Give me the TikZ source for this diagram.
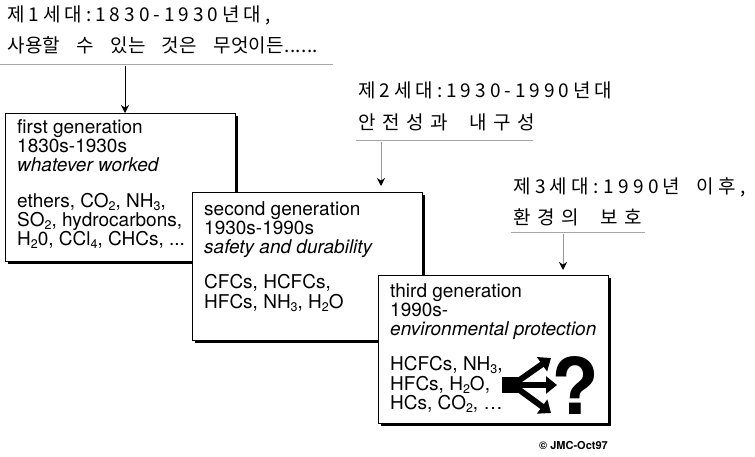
\documentclass[tikz,border=0pt]{standalone}
\usepackage{fontspec}
\setmainfont{TeX Gyre Heros}
\newfontfamily\krfont{Noto Sans CJK KR}
\usetikzlibrary{arrows.meta,shadows}
\newcommand\sbs[1]{\raisebox{-0.3ex}{\fontsize{12.5}{12.5}\selectfont #1}}
\newcommand\ksp[1][0.85em]{\hspace{#1}}
\newcommand\trk[1]{\addfontfeatures{LetterSpace=#1}}
\begin{document}
\begin{tikzpicture}[x=1pt,y=-1pt,
  genbox/.style={draw, line width=1pt, fill=white, anchor=north west, inner sep=0pt,
    minimum width=230pt, minimum height=148pt,
    general shadow={fill=black, shadow xshift=2.5pt, shadow yshift=-2.5pt}},
  boxtext/.style={anchor=north west, inner sep=0pt, align=left, font=\fontsize{19}{19.3}\selectfont},
  krtext/.style={anchor=west, inner sep=0pt, font=\krfont\fontsize{19}{22}\selectfont},
  uline/.style={draw=gray!70, line width=1pt},
  arr/.style={line width=1pt, -{Stealth[length=8pt,width=8pt,black]}},
  bigarr/.style={line width=6pt, -{Triangle[length=11pt,width=17pt]}}
]
\useasboundingbox (0,0) rectangle (755,456);

% Korean captions
\node[krtext] (k1a) at (7,15) {\trk{21}제1세대:1830-1930년대,};
\node[krtext] (k1b) at (7,45) {\trk{2}사용할\ksp 수\ksp 있는\ksp 것은\ksp 무엇이든......};
\node[krtext] (k2a) at (358,90) {\trk{21}제2세대:1930-1990년대};
\node[krtext] (k2b) at (358,122) {\trk{34}안전성과\ksp[0.6em] 내구성};
\node[krtext] (k3a) at (513,187) {\trk{23}제3세대:1990년\ksp 이후,};
\node[krtext] (k3b) at (513,217) {\trk{34}환경의\ksp[0.6em] 보호};

% boxes
\node[genbox] (b1) at (5,113) {};
\node[boxtext] (t1) at (17,119) {first generation\\1830s-1930s\\\textit{whatever worked}\\[16pt]
ethers, CO\sbs{2}, NH\sbs{3},\\SO\sbs{2}, hydrocarbons,\\H\sbs{2}0, CCl\sbs{4}, CHCs, ...};

\node[genbox] (b2) at (192,192) {};
\node[boxtext] (t2) at (204,201) {second generation\\1930s-1990s\\\textit{safety and durability}\\[16pt]
CFCs, HCFCs,\\HFCs, NH\sbs{3}, H\sbs{2}O};

\node[genbox] (b3) at (378,275) {};
\node[boxtext] (t3) at (390,283) {third generation\\1990s-\\\textit{environmental protection}\\[16pt]
HCFCs, NH\sbs{3},\\HFCs, H\sbs{2}O,\\HCs, CO\sbs{2}, \dots};

% underlines
\coordinate (u1a) at (0,64); \coordinate (u1b) at (333,64);
\coordinate (u2a) at (356,140); \coordinate (u2b) at (533,140);
\coordinate (u3a) at (511,232); \coordinate (u3b) at (645,232);
\draw[uline] (u1a) -- (u1b);
\draw[uline] (u2a) -- (u2b);
\draw[uline] (u3a) -- (u3b);

% arrows
\coordinate (a1) at (125,66);
\coordinate (a2) at (381,142);
\coordinate (a3) at (563,234);
\draw[arr] (a1) -- (a1 |- b1.north);
\draw[arr, draw=gray!80] (a2) -- ([yshift=6pt]a2 |- b2.north);
\draw[arr, draw=gray!80] (a3) -- ([yshift=5pt]a3 |- b3.north);

% fork symbol
\node[fill=black, inner sep=0pt, minimum width=20pt, minimum height=16pt] (blk) at (512,385) {};
\coordinate (f1) at (551,358);
\coordinate (f2) at (557,385);
\coordinate (f3) at (551,413);
\draw[bigarr] (blk.east) ++(-4,-4) -- (f1);
\draw[bigarr] (blk.east) -- (f2);
\draw[bigarr] (blk.east) ++(-4,4) -- (f3);
\node[anchor=center, inner sep=0pt, font=\fontsize{78}{78}\selectfont\bfseries] (q) at (575,385) {?};

% copyright
\node[anchor=east, inner sep=0pt, font=\fontsize{11}{11}\selectfont\bfseries] (cp) at (608,445) {© JMC-Oct97};
\end{tikzpicture}
\end{document}
